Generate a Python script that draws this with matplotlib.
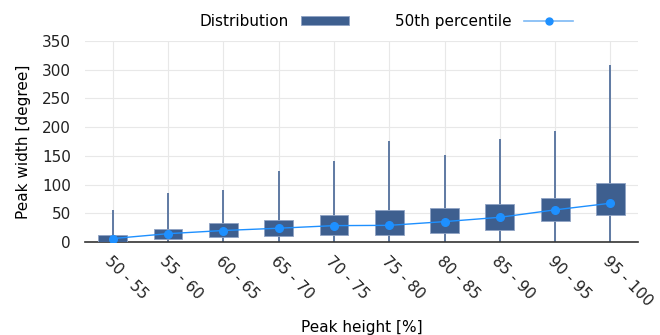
import matplotlib
matplotlib.use("Agg")
import matplotlib.pyplot as plt
import numpy as np
from matplotlib.patches import Patch
from matplotlib.lines import Line2D

categories = ["50 - 55", "55 - 60", "60 - 65", "65 - 70", "70 - 75",
              "75 - 80", "80 - 85", "85 - 90", "90 - 95", "95 - 100"]
whisker_low = [0, 0, 0, 0, 0, 0, 0, 0, 0, 0]
q1 = [0, 5, 9, 11, 12, 12, 15, 21.5, 36.5, 46.5]
median = [6, 14.5, 20, 24, 28.5, 29, 35.5, 43, 56, 67.5]
q3 = [12, 22, 32.5, 38, 47.5, 56, 59, 66, 76, 103]
whisker_high = [56, 85, 90, 124, 141, 176, 152, 179, 193, 308]
y_ticks = [0, 50, 100, 150, 200, 250, 300, 350]

box_color = "#3e5f8f"
line_color = "#1e90ff"
fs = 11

fig = plt.figure(figsize=(6.6, 3.35), dpi=100)
ax = fig.add_axes([0.1288, 0.2776, 0.838, 0.6])

x = np.arange(len(categories))
ax.vlines(x, whisker_low, whisker_high, color="#5f7aa3", lw=1.4, zorder=2)
ax.bar(x, np.array(q3) - np.array(q1), bottom=q1, width=0.52,
       color=box_color, edgecolor="#8fa3c4", linewidth=0.6, zorder=3)
ax.plot(x, median, color=line_color, lw=1.0, marker="o", ms=5.5,
        markerfacecolor=line_color, markeredgecolor=line_color, zorder=4)

ax.set_xlim(-0.5, 9.5)
ax.set_ylim(0, 350)
ax.set_yticks(y_ticks)
ax.set_xticks(x)
ax.set_xticklabels(categories, rotation=-45, ha="left", rotation_mode="anchor",
                   fontsize=fs)
ax.tick_params(axis="both", length=0, labelsize=fs, colors="#222222")
ax.tick_params(axis="y", pad=10)
ax.tick_params(axis="x", pad=8)
ax.grid(True, color="#e8e8e8", lw=0.8, zorder=0)
ax.set_axisbelow(True)
for s in ["top", "right", "left"]:
    ax.spines[s].set_visible(False)
ax.spines["bottom"].set_color("#333333")
ax.spines["bottom"].set_linewidth(1.2)

ax.set_xlabel("Peak height [%]", fontsize=fs, labelpad=8)
ax.set_ylabel("Peak width [degree]", fontsize=fs, labelpad=8)

handles = [Patch(facecolor=box_color, edgecolor="#8fa3c4", lw=0.6),
           Line2D([0], [0], color="#7db9f5", lw=1.2, marker="o", ms=5,
                  markerfacecolor=line_color, markeredgecolor=line_color)]
fig.legend(handles, ["Distribution", "50th percentile"], loc="upper center",
           bbox_to_anchor=(0.585, 1.0), ncol=2, frameon=False, markerfirst=False,
           fontsize=fs, handlelength=3.2, columnspacing=3.0, handleheight=0.6)

fig.savefig("out.png", dpi=100)
